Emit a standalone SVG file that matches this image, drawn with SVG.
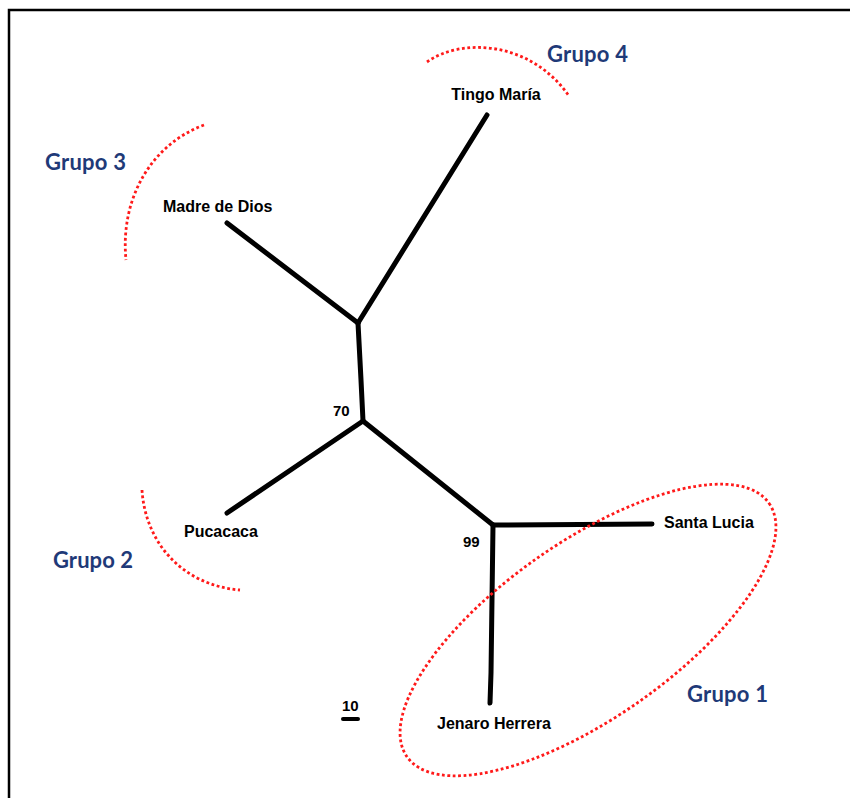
<svg xmlns="http://www.w3.org/2000/svg" width="850" height="798" viewBox="0 0 850 798">
<style>
.frame{fill:none;stroke:#000;stroke-width:2.5}
.br{fill:none;stroke:#000;stroke-width:5;stroke-linecap:round;stroke-linejoin:round}
.grp{fill:none;stroke:#FF1A1A;stroke-width:2.8;stroke-dasharray:2.8 2.6}
.lbl{font-family:"Liberation Sans",Arial,sans-serif;font-weight:bold;font-size:16px;fill:#000}
.num{font-family:"Liberation Sans",Arial,sans-serif;font-weight:bold;font-size:15px;fill:#000}
.gt{font-family:Lato,"Open Sans",sans-serif;font-weight:bold;font-size:22px;fill:#1F3A78}
</style>
<rect width="850" height="798" fill="#fff"/>
<path class="frame" d="M9,798 V10 H850"/>
<g id="connectors">
<path class="br" d="M487,115 L358,323"/>
<path class="br" d="M227,223 L358,323"/>
<path class="br" d="M358,323 L361,380 L363,421"/>
<path class="br" d="M363,421 L227,513"/>
<path class="br" d="M363,421 L493,525"/>
<path class="br" d="M493,525 L652,524"/>
<path class="br" d="M493,525 L491,673 L490,703"/>
</g>
<g id="groups">
<path class="grp" d="M427,62 C460,38 530,40 569,96"/>
<path class="grp" d="M204,125 C150,145 120,200 126,260"/>
<path class="grp" d="M142,490 C145,540 180,585 240,590"/>
<ellipse class="grp" cx="588" cy="630" rx="221" ry="88" transform="rotate(-35 588 630)"/>
</g>
<g id="tingo"><text class="lbl" x="496" y="100" text-anchor="middle">Tingo María</text></g>
<g id="madre"><text class="lbl" x="163" y="212">Madre de Dios</text></g>
<g id="pucacaca"><text class="lbl" x="184" y="537">Pucacaca</text></g>
<g id="santalucia"><text class="lbl" x="664" y="528">Santa Lucia</text></g>
<g id="jenaro"><text class="lbl" x="437" y="729">Jenaro Herrera</text></g>
<g id="n70"><text class="num" x="333" y="416">70</text></g>
<g id="n99"><text class="num" x="463" y="547">99</text></g>
<g id="scale"><text class="num" x="342" y="711">10</text><path d="M343,719 H358" stroke="#000" stroke-width="4" stroke-linecap="round"/></g>
<g id="g4"><text class="gt" x="547" y="62" textLength="81">Grupo 4</text></g>
<g id="g3"><text class="gt" x="45" y="170" textLength="81">Grupo 3</text></g>
<g id="g2"><text class="gt" x="53" y="568" textLength="80">Grupo 2</text></g>
<g id="g1"><text class="gt" x="687" y="702" textLength="81">Grupo 1</text></g>
</svg>
